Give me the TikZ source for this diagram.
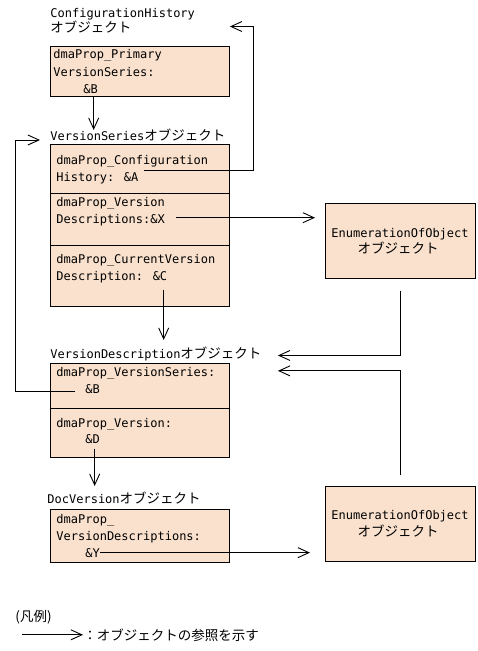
\documentclass[tikz,border=0pt]{standalone}
\usepackage{fontspec}
\setmainfont{DejaVu Sans Mono}
\newfontfamily\jpfont{Noto Sans CJK JP}
\usetikzlibrary{arrows.meta,calc}
\definecolor{objfill}{RGB}{249,225,205}
\newcommand\jp[1]{{\jpfont\fontsize{13.5pt}{17pt}\selectfont #1}}
\begin{document}
\begin{tikzpicture}[x=1pt,y=-1pt,line width=0.9pt,
  objbox/.style={draw,fill=objfill,anchor=north west,inner sep=0pt,minimum width=179pt},
  txt/.style={anchor=base west,inner sep=0pt,font=\fontsize{12pt}{17pt}\selectfont},
  ctxt/.style={txt,anchor=base},
  ref/.style={-{Straight Barb[length=11pt,width=10pt]}}]
\useasboundingbox (0,0) rectangle (478,651);
% ConfigurationHistory
\node[txt] (chlab) at (50,17) {ConfigurationHistory};
\node[txt] (chlab2) at (50,32) {\jp{オブジェクト}};
\node[objbox,minimum height=50pt] (ch) at (50,46) {};
\node[txt] (chf1) at (53,58) {dmaProp\_Primary};
\node[txt] (chf2) at (53,76) {VersionSeries:};
\node[txt] (chB) at (83,93) {\&B};
% VersionSeries
\node[txt] (vslab) at (50,140) {VersionSeries\jp{オブジェクト}};
\node[objbox,minimum height=162pt] (vs) at (50,144) {};
\draw (vs.west |- 0,193) -- (vs.east |- 0,193);
\draw (vs.west |- 0,245) -- (vs.east |- 0,245);
\node[txt] (vsf1) at (56,164) {dmaProp\_Configuration};
\node[txt] (vsA) at (56,181) {History: \&A};
\node[txt] (vsf3) at (56,206) {dmaProp\_Version};
\node[txt] (vsX) at (56,223) {Descriptions:\&X};
\node[txt] (vsf5) at (56,263) {dmaProp\_CurrentVersion};
\node[txt] (vsC) at (56,280) {Description: \&C};
% EnumerationOfObject (1)
\node[objbox,minimum width=150pt,minimum height=75pt] (en1) at (325,203) {};
\node[ctxt] (en1a) at (400,237) {EnumerationOfObject};
\node[ctxt] (en1b) at (398,253) {\jp{オブジェクト}};
% VersionDescription
\node[txt] (vdlab) at (50,358) {VersionDescription\jp{オブジェクト}};
\node[objbox,minimum height=94pt] (vd) at (50,363) {};
\draw (vd.west |- 0,408) -- (vd.east |- 0,408);
\node[txt] (vdS) at (56,376) {dmaProp\_VersionSeries:};
\node[txt] (vdB) at (85,393) {\&B};
\node[txt] (vdf3) at (56,427) {dmaProp\_Version:};
\node[txt] (vdD) at (85,443) {\&D};
% DocVersion
\node[txt] (dvlab) at (47,503) {DocVersion\jp{オブジェクト}};
\node[objbox,minimum height=53pt] (dv) at (50,509) {};
\node[txt] (dvf1) at (56,523) {dmaProp\_};
\node[txt] (dvf2) at (56,540) {VersionDescriptions:};
\node[txt] (dvY) at (85,557) {\&Y};
% EnumerationOfObject (2)
\node[objbox,minimum width=150pt,minimum height=75pt] (en2) at (325,486) {};
\node[ctxt] (en2a) at (400,519) {EnumerationOfObject};
\node[ctxt] (en2b) at (398,536) {\jp{オブジェクト}};
% legend
\node[txt] (lghead) at (15,621) {\jp{(凡例)}};
\node[txt] (lgtext) at (83,640) {\jp{：オブジェクトの参照を示す}};
% references
\coordinate (chturn) at ($(ch.east |- chlab2.east)+(24,0)$);
\draw[ref] ($(ch.south -| chB.center)+(3,0)$) -- ($(vslab.north -| chB.center)+(3,2)$);
\draw[ref] ($(vsA.north east)+(5,-1)$) -| (chturn) -- (ch.east |- chturn);
\draw[ref] ($(vsX.east)+(11,-2)$) -- ($(vsX.east -| en1.west)+(-10,-2)$);
\draw[ref] ($(vsC.south east)+(-4,7)$) -- ($(vdlab.north -| vsC.south east)+(-4,-6)$);
\draw[ref] ($(en1.south)+(0,12)$) |- ($(vdlab.east)+(16,2)$);
\draw[ref] ($(en2.north)+(0,-11)$) |- ($(vdS.east -| vdlab.east)+(16,-2)$);
\draw[ref] ($(vdB.base west)+(-10,-2)$) -| ($(vslab.base west)+(-35,0)$) -- ($(vslab.base west)+(-10,0)$);
\draw[ref] ($(vdD.south)+(2,5)$) -- ($(dvlab.north -| vdD.south)+(2,-5)$);
\draw[ref] (dvY.east) -- ($(dvY.east -| en2.west)+(-15,0)$);
\draw[ref] ($(lgtext.west)+(-61,0)$) -- (lgtext.west);
\end{tikzpicture}
\end{document}
